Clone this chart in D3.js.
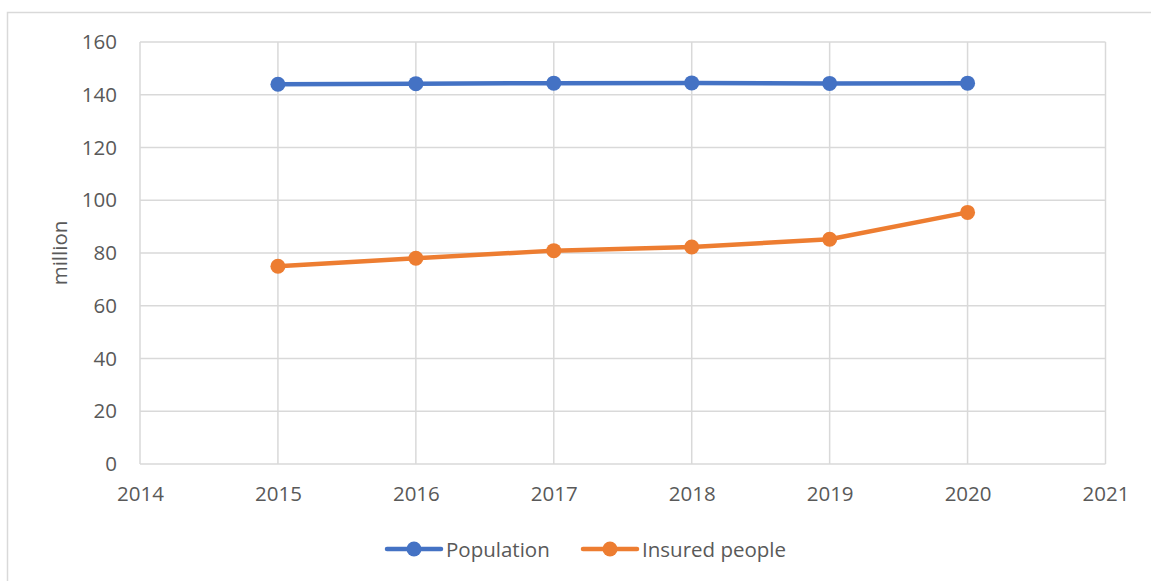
<!DOCTYPE html>
<html>
<head>
<meta charset="utf-8">
<script src="https://cdn.jsdelivr.net/npm/d3@7"></script>
<style>
  html, body { margin: 0; padding: 0; background: #fff; }
  svg { display: block; font-family: "Open Sans", sans-serif; }
</style>
</head>
<body>
<svg id="chart" width="1151" height="581"></svg>
<script>
const years = [2015, 2016, 2017, 2018, 2019, 2020];
const population = [144.0, 144.2, 144.4, 144.5, 144.3, 144.4];
const insured = [75.0, 78.0, 80.9, 82.3, 85.2, 95.4];
const xTicks = [2014, 2015, 2016, 2017, 2018, 2019, 2020, 2021];
const yTicks = [0, 20, 40, 60, 80, 100, 120, 140, 160];
const seriesNames = ["Population", "Insured people"];
const seriesColors = ["#4472C4", "#ED7D31"];
const yLabel = "million";

const svg = d3.select("#chart");
const plot = { left: 140, right: 1105.5, top: 42, bottom: 464 };
const x = d3.scaleLinear().domain([2014, 2021]).range([plot.left, plot.right]);
const y = d3.scaleLinear().domain([0, 160]).range([plot.bottom, plot.top]);
const grid = "#d9d9d9";
const textColor = "#595959";

// outer chart border
svg.append("rect").attr("x", 7.5).attr("y", 12.5).attr("width", 1200).attr("height", 700)
  .attr("fill", "none").attr("stroke", grid).attr("stroke-width", 1.5);

// gridlines
svg.append("g").selectAll("line.h").data(yTicks).join("line")
  .attr("x1", plot.left).attr("x2", plot.right)
  .attr("y1", d => y(d)).attr("y2", d => y(d))
  .attr("stroke", grid).attr("stroke-width", 1.5);
svg.append("g").selectAll("line.v").data(xTicks).join("line")
  .attr("x1", d => x(d)).attr("x2", d => x(d))
  .attr("y1", plot.top).attr("y2", plot.bottom)
  .attr("stroke", grid).attr("stroke-width", 1.5);

// y axis labels
const yAxis = d3.axisLeft(y).tickValues(yTicks).tickSize(0).tickPadding(23);
const gy = svg.append("g").attr("transform", `translate(${plot.left},0)`).call(yAxis);
gy.select(".domain").remove();
gy.selectAll("text").attr("fill", textColor).style("font-size", "20.5px").style("font-family", "Open Sans");

// x axis labels
const xAxis = d3.axisBottom(x).tickValues(xTicks).tickFormat(d3.format("d")).tickSize(0).tickPadding(22);
const gx = svg.append("g").attr("transform", `translate(0,${plot.bottom})`).call(xAxis);
gx.select(".domain").remove();
gx.selectAll("text").attr("fill", textColor).style("font-size", "20.5px").style("font-family", "Open Sans");

// y title
svg.append("text").attr("transform", `translate(67,${(plot.top + plot.bottom) / 2}) rotate(-90)`)
  .attr("text-anchor", "middle")
  .attr("fill", textColor).style("font-size", "20.5px").text(yLabel);

// series
const seriesData = [population, insured];
const line = d3.line().x((d, i) => x(years[i])).y(d => y(d));
seriesData.forEach((vals, si) => {
  svg.append("path").datum(vals).attr("d", line)
    .attr("fill", "none").attr("stroke", seriesColors[si]).attr("stroke-width", 4.5)
    .attr("stroke-linejoin", "round").attr("stroke-linecap", "round");
  svg.append("g").selectAll("circle").data(vals).join("circle")
    .attr("cx", (d, i) => x(years[i])).attr("cy", d => y(d)).attr("r", 7.5)
    .attr("fill", seriesColors[si]);
});

// legend
const legendItems = [{ x0: 387, name: seriesNames[0], color: seriesColors[0] },
                     { x0: 583, name: seriesNames[1], color: seriesColors[1] }];
const ly = 549;
legendItems.forEach(it => {
  const g = svg.append("g");
  g.append("line").attr("x1", it.x0).attr("x2", it.x0 + 54).attr("y1", ly).attr("y2", ly)
    .attr("stroke", it.color).attr("stroke-width", 4.5).attr("stroke-linecap", "round");
  g.append("circle").attr("cx", it.x0 + 27).attr("cy", ly).attr("r", 7.5).attr("fill", it.color);
  g.append("text").attr("x", it.x0 + 59).attr("y", ly).attr("dominant-baseline", "central")
    .attr("fill", textColor).style("font-size", "20.5px").text(it.name);
});
</script>
</body>
</html>
